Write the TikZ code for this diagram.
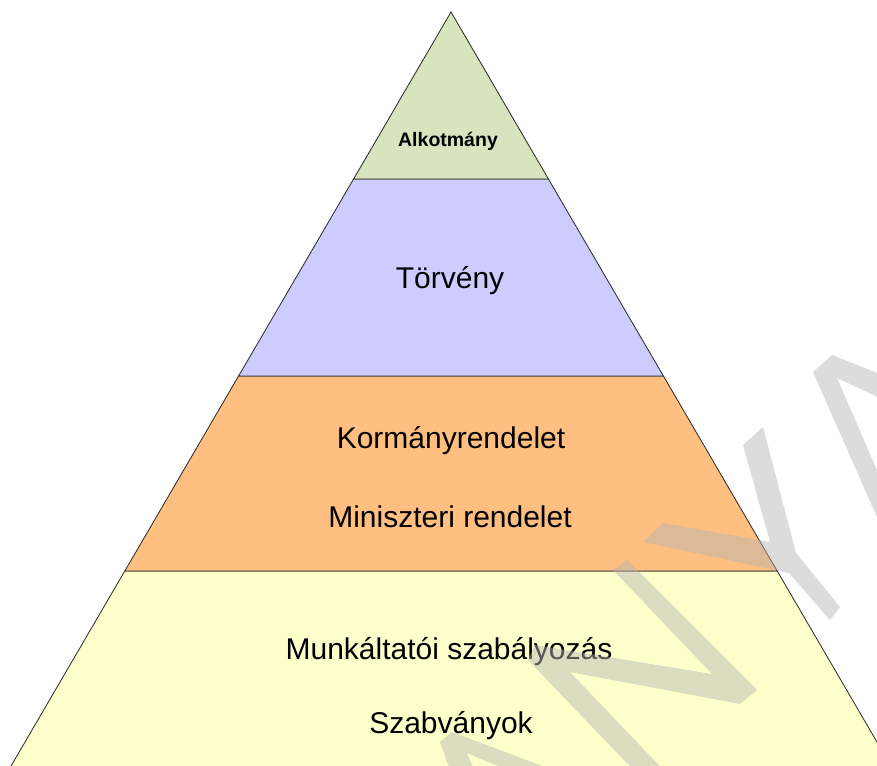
\documentclass[tikz,border=0pt]{standalone}
\usepackage{fontspec}
\setmainfont{Liberation Sans}
\definecolor{lgreen}{RGB}{215,228,189}
\definecolor{lblue}{RGB}{204,204,255}
\definecolor{lorange}{RGB}{255,191,128}
\definecolor{lyellow}{RGB}{255,255,204}
\definecolor{wmark}{RGB}{181,181,181}
\begin{document}
\begin{tikzpicture}[x=1pt,y=-1pt,
  layer/.style={draw=black!85,line width=0.8pt,line join=miter},
  big/.style={font=\fontsize{30}{32}\selectfont,inner sep=0pt},
  small/.style={font=\fontsize{19.5}{21}\selectfont\bfseries,inner sep=0pt},
  wm/.style={fill=wmark,fill opacity=0.47}]
\useasboundingbox (0,0) rectangle (877,765);
\fill[white] (0,0) rectangle (877,765);
\clip (0,0) rectangle (877,765);
% layers
\path[layer,fill=lyellow] (124.8,571) -- (777.2,571) -- (910.8,800) -- (-8.8,800) -- cycle;
\path[layer,fill=lorange] (238.6,376) -- (663.4,376) -- (777.2,571) -- (124.8,571) -- cycle;
\path[layer,fill=lblue] (353.6,179) -- (548.4,179) -- (663.4,376) -- (238.6,376) -- cycle;
\path[layer,fill=lgreen] (451,12) -- (548.4,179) -- (353.6,179) -- cycle;
% texts
\node[small] (alk) at (448,141) {Alkotmány};
\node[big] (tor) at (450,281) {Törvény};
\node[big] (kor) at (451,441) {Kormányrendelet};
\node[big] (min) at (450,517) {Miniszteri rendelet};
\node[big] (mun) at (449,652) {Munkáltatói szabályozás};
\node[big] (szab) at (451,726) {Szabványok};
% watermark
\path[wm]
  (613,570) -- (627,560) -- (757,690) -- (740,704) -- (570,672) -- (673,780) -- (643,780) -- (528,660) -- (535,645) -- (712,674) -- cycle
  (643,542) -- (663,523) -- (770,542) -- (743,445) -- (763,427) -- (796,553) -- (840,607) -- (830,620) -- (789,573) -- cycle
  (813,372) -- (832,355) -- (880,374) -- (880,398) -- (837,378) -- (880,477) -- (880,524) -- cycle
  (440,742) -- (452,732) -- (553,770) -- (507,770) -- (467,753) -- (474,770) -- (450,770) -- cycle;
\end{tikzpicture}
\end{document}
